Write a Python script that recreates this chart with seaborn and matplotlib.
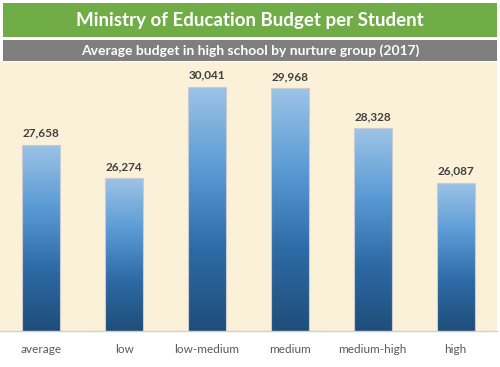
import numpy as np
import pandas as pd
import matplotlib.pyplot as plt
import seaborn as sns
from matplotlib.colors import LinearSegmentedColormap
from matplotlib.patches import Rectangle

groups = ['average', 'low', 'low-medium', 'medium', 'medium-high', 'high']
budget = [27658, 26274, 30041, 29968, 28328, 26087]
title = 'Ministry of Education Budget per Student'
subtitle = 'Average budget in high school by nurture group (2017)'

df = pd.DataFrame({'group': groups, 'budget': budget})

sns.set_style('white')
plt.rcParams['font.family'] = ['Lato', 'DejaVu Sans']

fig = plt.figure(figsize=(5, 3.67), dpi=100)
fig.patch.set_facecolor('white')
ax = fig.add_axes([0.0, 0.098, 0.994, 0.733])
ax.set_facecolor('#FBF0D8')

sns.barplot(data=df, x='group', y='budget', ax=ax, width=0.46,
            color='#5B9BD5', edgecolor='#C9CCD1', linewidth=0.8)
ax.set_ylim(20000, 31050)
ax.set_xlim(-0.5, 5.5)

# vertical gradient fill for each bar
cmap = LinearSegmentedColormap.from_list('bar', ['#1F4E79', '#2E6AA6', '#5B9BD5', '#9DC3E6'])
grad = np.linspace(0, 1, 256).reshape(-1, 1)
for p in ax.patches:
    x0, y0 = p.get_x(), p.get_y()
    w, h = p.get_width(), p.get_height()
    bottom = ax.get_ylim()[0]
    im = ax.imshow(grad, cmap=cmap, origin='lower', aspect='auto',
                   extent=[x0, x0 + w, bottom, y0 + h], zorder=p.get_zorder())
    im.set_clip_path(p)
    p.set_facecolor('none')
    p.set_zorder(p.get_zorder() + 0.1)
ax.set_xlim(-0.5, 5.5)
ax.set_ylim(20000, 31050)

for i, v in enumerate(budget):
    ax.text(i, v + 250, f'{v:,}', ha='center', va='bottom', fontsize=8.5,
            fontweight='bold', color='#404040')

ax.set_xlabel('')
ax.set_ylabel('')
ax.set_yticks([])
ax.tick_params(axis='x', length=0, pad=9, labelsize=8.5, labelcolor='#595959')
for s in ['top', 'left', 'right']:
    ax.spines[s].set_visible(False)
ax.spines['bottom'].set_color('#D0D0D0')
ax.spines['bottom'].set_linewidth(1)

# header banners
fig.patches.append(Rectangle((0.006, 0.899), 0.988, 0.093, transform=fig.transFigure,
                             facecolor='#70AD47', edgecolor='none'))
fig.patches.append(Rectangle((0.006, 0.834), 0.988, 0.057, transform=fig.transFigure,
                             facecolor='#7F7F7F', edgecolor='none'))
fig.text(0.5, 0.945, title, ha='center', va='center', fontsize=13.5,
         fontweight='bold', color='white')
fig.text(0.5, 0.862, subtitle, ha='center', va='center', fontsize=10,
         fontweight='bold', color='white')

fig.savefig('out.png', dpi=100, facecolor=fig.get_facecolor())
plt.close()
